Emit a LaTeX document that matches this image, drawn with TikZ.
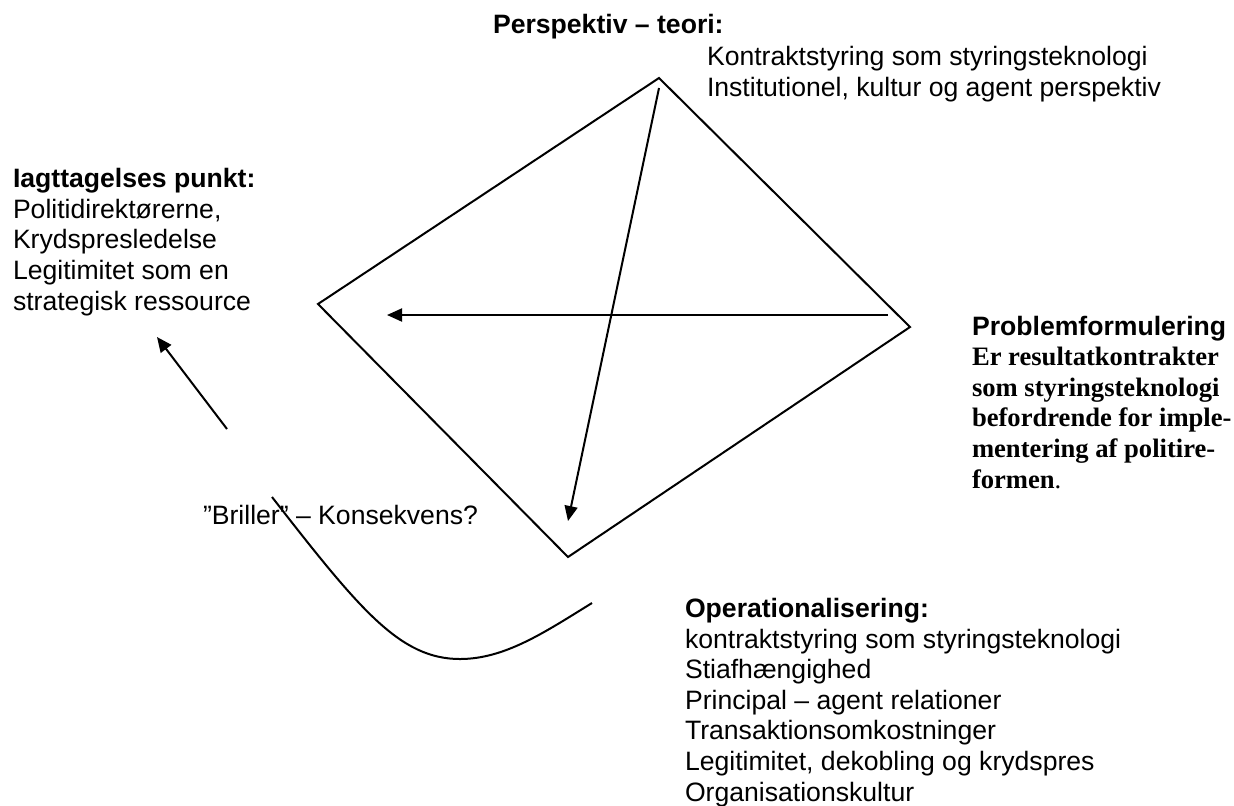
\documentclass[tikz,border=0pt]{standalone}
\usepackage{fontspec}
\setmainfont{Liberation Sans}
\newfontfamily\timesfont{Liberation Serif}
\usetikzlibrary{arrows.meta}
\begin{document}
\begin{tikzpicture}[x=0.5pt,y=-0.5pt,
  txt/.style={anchor=base west,inner sep=0pt,outer sep=0pt,align=left,font=\fontsize{13.3pt}{15.3pt}\selectfont},
  edge/.style={line width=1pt,line join=miter},
  arr/.style={line width=1pt,-{Triangle[length=7.5pt,width=6.5pt]}}]
\useasboundingbox (0,0) rectangle (1234,805);
% diamond
\coordinate (T) at (659,78);
\coordinate (R) at (910,327);
\coordinate (B) at (568,557);
\coordinate (L) at (318,304);
\draw[edge] (T) -- (R) -- (B) -- (L) -- cycle;
% arrows
\coordinate (a1s) at (659,88);
\coordinate (a1e) at (568,521);
\draw[arr] (a1s) -- (a1e);
\coordinate (a2s) at (888,315);
\coordinate (a2e) at (387,315);
\draw[arr] (a2s) -- (a2e);
\coordinate (a3s) at (227,429);
\coordinate (a3e) at (157,337);
\draw[arr] (a3s) -- (a3e);
% curve
\coordinate (c1) at (272,497);
\coordinate (c2) at (460,659);
\coordinate (c3) at (592,603);
\draw[line width=1pt] (c1) .. controls (360,610) and (400,659) .. (c2) .. controls (505,659) and (545,632) .. (c3);
% texts (anchor = baseline of last line)
\node[txt,font=\fontsize{13.3pt}{15.3pt}\selectfont\bfseries] (persp) at (493,33) {Perspektiv – teori:};
\node[txt] (kontr) at (707,96) {Kontraktstyring som styringsteknologi\\Institutionel, kultur og agent perspektiv};
\node[txt] (iagt) at (13,310) {\textbf{Iagttagelses punkt:}\\Politidirektørerne,\\Krydspresledelse\\Legitimitet som en\\strategisk ressource};
\node[txt] (probl) at (972,488) {\textbf{Problemformulering}\\{\timesfont\bfseries Er resultatkontrakter}\\{\timesfont\bfseries som styringsteknologi}\\{\timesfont\bfseries befordrende for imple-}\\{\timesfont\bfseries mentering af politire-}\\{\timesfont{\bfseries formen}.}};
\node[txt] (brill) at (203,524) {”Briller” – Konsekvens?};
\node[txt] (oper) at (685,801) {\textbf{Operationalisering:}\\kontraktstyring som styringsteknologi\\Stiafhængighed\\Principal – agent relationer\\Transaktionsomkostninger\\Legitimitet, dekobling og krydspres\\Organisationskultur};
\end{tikzpicture}
\end{document}
